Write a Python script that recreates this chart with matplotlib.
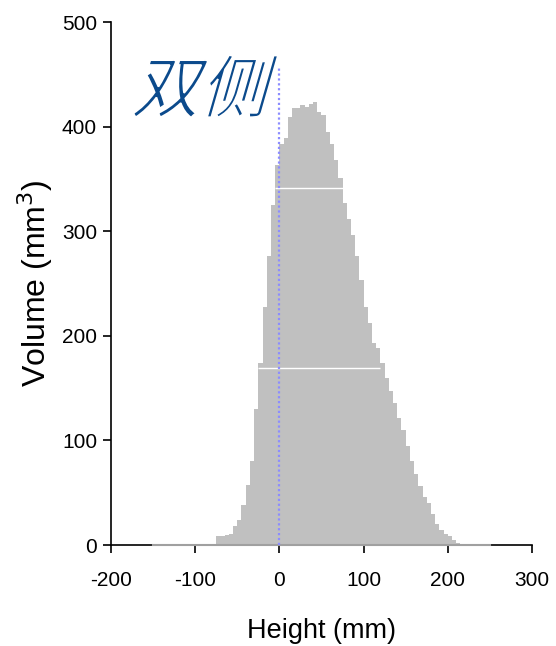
import matplotlib.pyplot as plt
import numpy as np
from matplotlib.textpath import TextPath
from matplotlib.patches import PathPatch
from matplotlib.font_manager import FontProperties
from matplotlib.transforms import Affine2D

plt.rcParams['font.family'] = ['Liberation Sans', 'DejaVu Sans']
plt.rcParams['axes.unicode_minus'] = False

# 数据: 5 mm 分箱的体积分布
bin_start = list(range(-75, 215, 5))
volume = [9, 9, 10, 11, 18, 24, 38, 57, 80, 130,
          174, 228, 276, 325, 363, 383, 389, 409, 418, 418,
          421, 419, 422, 424, 414, 411, 395, 383, 368, 351,
          327, 312, 296, 276, 253, 228, 212, 193, 188, 174,
          160, 147, 136, 121, 110, 95, 80, 68, 56, 46,
          40, 30, 20, 14, 11, 9, 5, 2]
bin_width = 5
title_text = '双侧'
marker_x = 0
marker_top = 458
# 图中两条白色细线 (原图的渲染痕迹)
seam_levels = [341, 169]
seam_from = [-5, -25]
seam_to = [75, 120]

fig = plt.figure(figsize=(5.56, 6.46), dpi=100)
ax = fig.add_axes([0.1996, 0.1563, 0.7572, 0.8096])

ax.bar(bin_start, volume, width=bin_width, align='edge', color='#c0c0c0',
       edgecolor='none', linewidth=0, zorder=2)
ax.hlines(seam_levels, seam_from, seam_to, colors='white', linewidth=1, zorder=3)
ax.plot([-150, 250], [0, 0], color='#a0a0a0', linewidth=1.5, zorder=4, clip_on=False)
ax.vlines(marker_x, 0, marker_top, colors='#8c8cff', linestyles=(0, (1, 1.2)),
          linewidth=1.6, zorder=5)

ax.set_xlim(-200, 300)
ax.set_ylim(0, 500)
ax.set_xticks(range(-200, 301, 100))
ax.set_yticks(range(0, 501, 100))
for s in ['top', 'right']:
    ax.spines[s].set_visible(False)
for s in ['left', 'bottom']:
    ax.spines[s].set_linewidth(1.2)
ax.tick_params(axis='both', direction='out', length=6, width=1.2, labelsize=15)
ax.tick_params(axis='x', pad=13)
ax.tick_params(axis='y', pad=4)

ax.set_xlabel('Height (mm)', fontsize=19.5, labelpad=20)
ax.set_ylabel('Volume (mm$^3$)', fontsize=23, labelpad=5)

# 斜体中文标题 (用路径倾斜模拟斜体, 白色描边让笔画变细)
fp = FontProperties(family='Noto Sans CJK SC')
tp = TextPath((0, 0), title_text, size=68, prop=fp)
tr = Affine2D().skew_deg(16, 0).translate(131, 646 - 112)
patch = PathPatch(tr.transform_path(tp), facecolor='#0b4a8c', edgecolor='white',
                  linewidth=1.3, transform=None)
fig.patches.append(patch)

fig.savefig('out.png', dpi=100)
